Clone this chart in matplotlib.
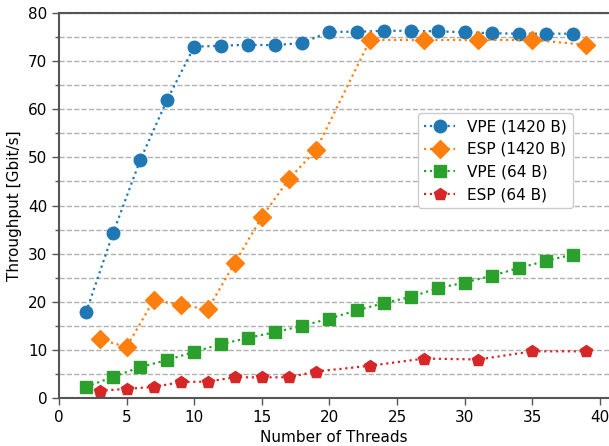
import matplotlib
matplotlib.use("Agg")
import matplotlib.pyplot as plt
from matplotlib.ticker import MultipleLocator

# data
threads_even = [2, 4, 6, 8, 10, 12, 14, 16, 18, 20, 22, 24, 26, 28, 30, 32, 34, 36, 38]
threads_odd = [3, 5, 7, 9, 11, 13, 15, 17, 19, 23, 27, 31, 35, 39]

vpe_1420 = [17.8, 34.3, 49.4, 62.0, 73.0, 73.2, 73.4, 73.3, 73.8, 76.1,
            76.1, 76.3, 76.3, 76.2, 76.0, 75.8, 75.7, 75.7, 75.7]
esp_1420 = [12.2, 10.6, 20.3, 19.4, 18.4, 28.1, 37.6, 45.5, 51.5, 74.4,
            74.4, 74.4, 74.4, 73.4]
vpe_64 = [2.3, 4.4, 6.4, 7.9, 9.6, 11.2, 12.5, 13.7, 15.0, 16.5,
          18.2, 19.7, 21.0, 22.8, 24.0, 25.4, 27.0, 28.5, 29.8]
esp_64 = [1.5, 1.9, 2.3, 3.3, 3.4, 4.3, 4.3, 4.3, 5.5, 6.7, 8.2, 8.0, 9.7, 9.7]

fig = plt.figure(figsize=(6.09, 4.46), dpi=100)
ax = fig.add_axes([59 / 609, 48 / 446, 550 / 609, 385 / 446])

ax.plot(threads_even, vpe_1420, ':o', color='#1f77b4', lw=1.6, ms=9, label='VPE (1420 B)')
ax.plot(threads_odd, esp_1420, ':D', color='#ff7f0e', lw=1.6, ms=9, label='ESP (1420 B)')
ax.plot(threads_even, vpe_64, ':s', color='#2ca02c', lw=1.6, ms=9, label='VPE (64 B)')
ax.plot(threads_odd, esp_64, ':p', color='#d62728', lw=1.6, ms=9, label='ESP (64 B)')

ax.set_xlim(0, 40.67)
ax.set_ylim(0, 80)
ax.xaxis.set_major_locator(MultipleLocator(5))
ax.yaxis.set_major_locator(MultipleLocator(10))
ax.yaxis.set_minor_locator(MultipleLocator(5))
ax.grid(which='both', axis='y', linestyle='--', color='#b0b0b0', linewidth=1)
ax.set_axisbelow(True)

for side in ['left', 'bottom', 'top']:
    ax.spines[side].set_color('#555555')
    ax.spines[side].set_linewidth(1.5)
ax.spines['right'].set_visible(False)
ax.tick_params(which='both', colors='#555555', labelcolor='black', labelsize=11, width=1)
ax.tick_params(which='major', length=5)
ax.tick_params(which='minor', length=3)

ax.set_xlabel('Number of Threads', fontsize=11)
ax.set_ylabel('Throughput [Gbit/s]', fontsize=11)
ax.legend(loc='upper left', bbox_to_anchor=(0.653, 0.740), borderaxespad=0,
          fontsize=11, framealpha=1)

fig.savefig('out.png', dpi=100)
